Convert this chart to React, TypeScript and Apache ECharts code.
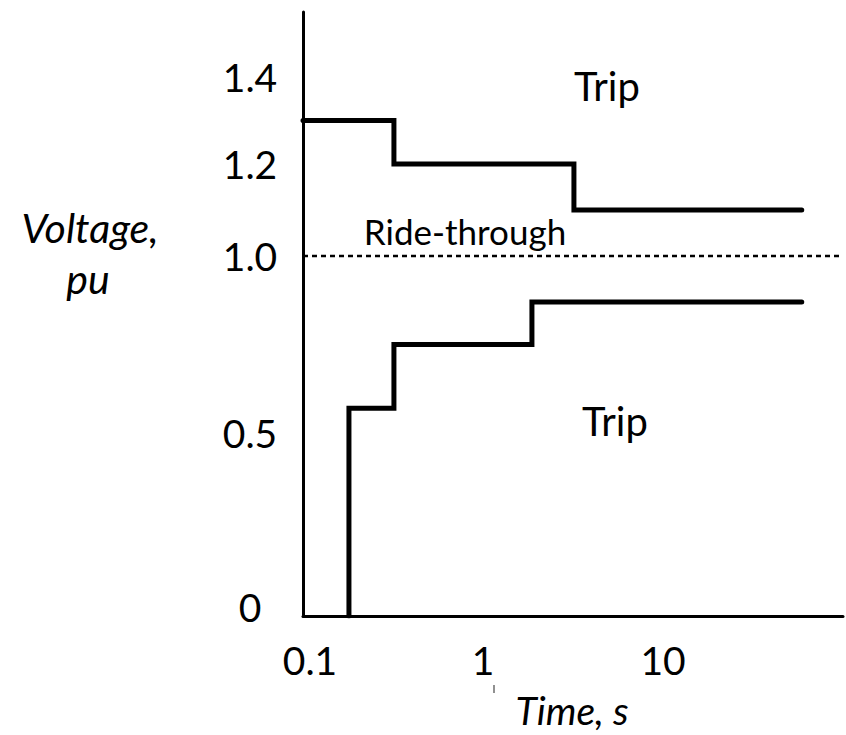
import React, { useEffect, useRef } from "react";
import * as echarts from "echarts";

// ---- Data ----
const upperTimes = [0.1, 0.32, 3.2, 59];
const upperVolts = [1.3, 1.2, 1.1, 1.1];
const lowerTimes = [0.18, 0.32, 1.87, 59];
const lowerVolts = [0, 0.57, 0.75, 0.87];
const nominalTimes = [0.1, 96];
const nominalVolts = [1.0, 1.0];
const xTickValues = [0.1, 1, 10];
const xTickLabels = ["0.1", "1", "10"];
const yTickValues = [0, 0.5, 1.0, 1.2, 1.4];
const yTickLabels = ["0", "0.5", "1.0", "1.2", "1.4"];

// ---- Non-uniform (piecewise-linear) voltage scale of the schematic ----
const Y_KNOT_PU = [0, 0.5, 1.0, 1.2, 1.4];
const Y_KNOT_AXIS = [0, 183, 360, 452, 539];
const Y_AXIS_MAX = 604;

function toAxis(v: number): number {
  for (let i = 1; i < Y_KNOT_PU.length; i++) {
    if (v <= Y_KNOT_PU[i] || i === Y_KNOT_PU.length - 1) {
      const p0 = Y_KNOT_PU[i - 1];
      const p1 = Y_KNOT_PU[i];
      const a0 = Y_KNOT_AXIS[i - 1];
      const a1 = Y_KNOT_AXIS[i];
      return a0 + ((v - p0) / (p1 - p0)) * (a1 - a0);
    }
  }
  return 0;
}

const FONT = "Lato";

function nearestIndex(values: number[], v: number, tol: number): number {
  let best = -1;
  let bestD = Infinity;
  values.forEach((x, i) => {
    const d = Math.abs(x - v);
    if (d < bestD) {
      bestD = d;
      best = i;
    }
  });
  return bestD <= tol ? best : -1;
}

export default function App() {
  const ref = useRef<HTMLDivElement>(null);

  useEffect(() => {
    if (!ref.current) return;
    const chart = echarts.init(ref.current, undefined, { renderer: "svg" });
    const yAxisTicks = yTickValues.map(toAxis);

    const lineStyle = { color: "#000", width: 5, cap: "round", join: "miter" };

    const txt = (text: string, x: number, y: number, font: string, lineHeight?: number) => ({
      type: "text",
      x,
      y,
      style: {
        text,
        fill: "#000",
        font,
        textAlign: "center",
        textVerticalAlign: "middle",
        ...(lineHeight ? { lineHeight } : {}),
      },
    });

    chart.setOption({
      animation: false,
      backgroundColor: "#fff",
      grid: { left: 303, right: 3, top: 12, bottom: 119 },
      xAxis: {
        type: "log",
        logBase: 10,
        min: 0.1,
        max: 100,
        axisLine: { show: true, lineStyle: { color: "#000", width: 3 } },
        axisTick: { show: false },
        splitLine: { show: false },
        axisLabel: {
          margin: 24,
          color: "#000",
          fontFamily: FONT,
          fontSize: 39,
          formatter: (v: number) => {
            const i = nearestIndex(xTickValues, v, v * 0.01);
            if (i < 0) return "";
            return i === 0 ? `{f|${xTickLabels[i]}}` : `{n|${xTickLabels[i]}}`;
          },
          rich: {
            n: { color: "#000", fontFamily: FONT, fontSize: 39 },
            f: { color: "#000", fontFamily: FONT, fontSize: 39, padding: [0, 0, 0, 14] },
          },
        },
      },
      yAxis: {
        type: "value",
        min: 0,
        max: Y_AXIS_MAX,
        axisLine: { show: true, lineStyle: { color: "#000", width: 3 } },
        axisTick: { show: false },
        splitLine: { show: false },
        axisLabel: {
          customValues: yAxisTicks,
          margin: 53,
          align: "center",
          color: "#000",
          fontFamily: FONT,
          fontSize: 39,
          formatter: (v: number) => {
            const i = nearestIndex(yAxisTicks, v, 1);
            if (i < 0) return "";
            return i === 0 ? `{z|${yTickLabels[i]}}` : `{n|${yTickLabels[i]}}`;
          },
          rich: {
            n: { color: "#000", fontFamily: FONT, fontSize: 39 },
            z: { color: "#000", fontFamily: FONT, fontSize: 39, padding: [0, 0, 18, 0] },
          },
        },
      },
      series: [
        {
          name: "Over-voltage trip",
          type: "line",
          step: "end",
          symbol: "none",
          lineStyle,
          data: upperTimes.map((t, i) => [t, toAxis(upperVolts[i])]),
        },
        {
          name: "Under-voltage trip",
          type: "line",
          step: "start",
          symbol: "none",
          lineStyle,
          data: lowerTimes.map((t, i) => [t, toAxis(lowerVolts[i])]),
        },
        {
          name: "Nominal",
          type: "line",
          symbol: "none",
          lineStyle: { color: "#000", width: 2.5, type: [5, 4] },
          data: nominalTimes.map((t, i) => [t, toAxis(nominalVolts[i])]),
        },
      ],
      graphic: [
        txt("Voltage,", 90, 227, `italic 41px ${FONT}`),
        txt("pu", 88, 278, `italic 41px ${FONT}`),
        txt("Time, s", 572, 710, `italic 39px ${FONT}`, 36),
        txt("Trip", 607, 86, `40px ${FONT}`),
        txt("Trip", 615, 421, `40px ${FONT}`),
        txt("Ride-through", 465, 231, `35px ${FONT}`),
        {
          type: "line",
          shape: { x1: 494, y1: 685, x2: 494, y2: 693 },
          style: { stroke: "#555", lineWidth: 1.3 },
        },
      ],
    });

    return () => chart.dispose();
  }, []);

  return (
    <div
      ref={ref}
      style={{ position: "fixed", left: 0, top: 0, width: 846, height: 735, background: "#fff" }}
    />
  );
}
